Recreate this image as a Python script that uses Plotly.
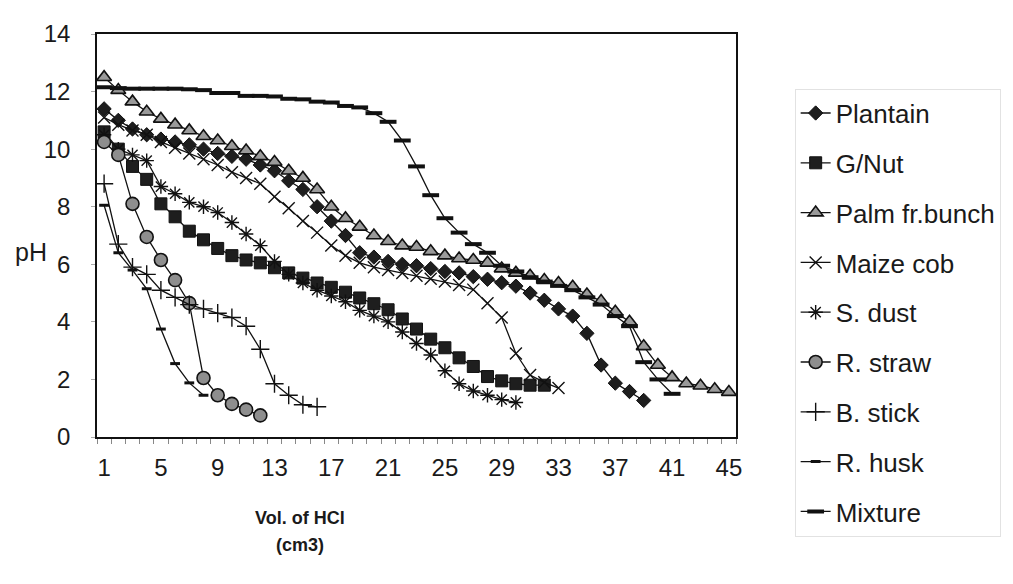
import plotly.graph_objects as go

# ---------------- data ----------------
vol = list(range(1, 46))                      # volume of HCl categories
xtick_vals = list(range(1, 46, 4))
xtick_text = [str(v) for v in xtick_vals]
ytick_vals = list(range(0, 15, 2))

plantain = [11.4, 11.0, 10.7, 10.5, 10.35, 10.25, 10.15, 10.0, 9.85, 9.75,
            9.65, 9.45, 9.25, 8.9, 8.6, 8.0, 7.5, 7.0, 6.4, 6.25,
            6.1, 6.0, 5.95, 5.85, 5.75, 5.7, 5.57, 5.48, 5.36, 5.24,
            5.0, 4.75, 4.45, 4.2, 3.6, 2.5, 1.87, 1.58, 1.27]
gnut = [10.6, 10.0, 9.4, 8.95, 8.1, 7.65, 7.15, 6.85, 6.55, 6.3,
        6.15, 6.05, 5.88, 5.7, 5.52, 5.35, 5.2, 5.03, 4.83, 4.63,
        4.42, 4.1, 3.75, 3.4, 3.1, 2.75, 2.45, 2.1, 1.95, 1.85,
        1.8, 1.8]
palm = [12.5, 12.05, 11.65, 11.3, 11.05, 10.85, 10.65, 10.45, 10.3, 10.1,
        9.95, 9.75, 9.55, 9.25, 9.0, 8.6, 8.0, 7.6, 7.3, 7.0,
        6.8, 6.65, 6.6, 6.45, 6.3, 6.2, 6.15, 6.05, 5.85, 5.7,
        5.6, 5.45, 5.35, 5.22, 4.95, 4.72, 4.35, 4.0, 3.15, 2.5,
        2.07, 1.86, 1.78, 1.66, 1.56]
maize = [11.1, 10.85, 10.65, 10.5, 10.25, 10.05, 9.85, 9.65, 9.45, 9.2,
         9.0, 8.8, 8.35, 7.95, 7.5, 7.1, 6.65, 6.3, 6.05, 5.9,
         5.8, 5.7, 5.6, 5.5, 5.4, 5.28, 5.12, 4.65, 4.15, 2.9,
         2.15, 1.9, 1.7]
sdust = [10.5, 10.0, 9.8, 9.6, 8.7, 8.45, 8.15, 8.0, 7.8, 7.45,
         7.05, 6.65, 6.1, 5.65, 5.35, 5.1, 4.9, 4.7, 4.4, 4.2,
         4.0, 3.65, 3.25, 2.85, 2.3, 1.85, 1.6, 1.45, 1.3, 1.2]
rstraw = [10.25, 9.8, 8.1, 6.95, 6.15, 5.45, 4.65, 2.05, 1.45, 1.15,
          0.95, 0.75]
bstick = [8.8, 6.7, 5.9, 5.65, 5.1, 4.85, 4.6, 4.45, 4.3, 4.15,
          3.85, 3.05, 1.85, 1.45, 1.12, 1.05]
rhusk = [8.05, 6.4, 5.8, 5.15, 3.75, 2.55, 1.88, 1.45]
mixture = [12.15, 12.12, 12.1, 12.1, 12.1, 12.1, 12.08, 12.05, 11.95, 11.95,
           11.85, 11.85, 11.83, 11.75, 11.73, 11.65, 11.62, 11.5, 11.45, 11.25,
           10.95, 10.3, 9.4, 8.4, 7.6, 7.1, 6.7, 6.4, 5.95, 5.75,
           5.55, 5.4, 5.25, 5.1, 4.85, 4.6, 4.2, 3.85, 2.6, 2.0,
           1.5]

names = ["Plantain", "G/Nut", "Palm fr.bunch", "Maize cob", "S. dust",
         "R. straw", "B. stick", "R. husk", "Mixture"]
values = [plantain, gnut, palm, maize, sdust, rstraw, bstick, rhusk, mixture]

# ---------------- styles ----------------
INK = "#111111"
markers = [
    dict(symbol="diamond", size=11, color="#1e1e1e", line=dict(color=INK, width=1)),
    dict(symbol="square", size=12, color="#1e1e1e", line=dict(color=INK, width=1)),
    dict(symbol="triangle-up", size=13, color="#9a9a9a", line=dict(color=INK, width=1.6)),
    dict(symbol="x-thin", size=12, color=INK, line=dict(color=INK, width=1.4)),
    dict(symbol="asterisk", size=12, color=INK, line=dict(color=INK, width=1.4)),
    dict(symbol="circle", size=13, color="#8e8e8e", line=dict(color=INK, width=1.6)),
    dict(symbol="cross-thin", size=13, color=INK, line=dict(color=INK, width=1.4)),
    dict(symbol="line-ew", size=7, color=INK, line=dict(color=INK, width=3)),
    dict(symbol="line-ew", size=12, color=INK, line=dict(color=INK, width=4)),
]

FONT = "Liberation Sans, Arial, sans-serif"
TXT = "#1a1a1a"

fig = go.Figure()
for i, (nm, vals, mk) in enumerate(zip(names, values, markers)):
    fig.add_trace(go.Scatter(
        x=vol[:len(vals)], y=vals, name=nm, mode="lines+markers",
        line=dict(color=INK, width=1.3), marker=mk,
        legendgroup=f"g{i}",
    ))

fig.update_layout(
    width=1013, height=584,
    margin=dict(l=97, r=273, t=34, b=147),
    paper_bgcolor="white", plot_bgcolor="white",
    font=dict(family=FONT, color=TXT),
    showlegend=True,
    legend=dict(
        x=1.0918, y=0.8645, xanchor="left", yanchor="top",
        font=dict(family=FONT, size=26, color=TXT),
        tracegroupgap=13, bordercolor="#e2e2e2", borderwidth=1,
        bgcolor="rgba(0,0,0,0)", maxheight=580,
    ),
    xaxis=dict(
        range=[0.5, 45.5], tickmode="array", tickvals=xtick_vals, ticktext=xtick_text,
        ticks="", showgrid=False, zeroline=False,
        showline=True, linecolor=INK, linewidth=1.5, mirror=True,
        tickfont=dict(family=FONT, size=24, color=TXT),
        ticklabelstandoff=8,
        minor=dict(tickvals=[v + 0.5 for v in range(0, 46)], ticks="outside",
                   ticklen=5, tickcolor="#888888", showgrid=False),
    ),
    yaxis=dict(
        range=[0, 14], tickmode="array", tickvals=ytick_vals,
        ticks="outside", ticklen=4, tickcolor="#aaaaaa",
        showgrid=False, zeroline=False,
        showline=True, linecolor=INK, linewidth=1.5, mirror=True,
        tickfont=dict(family=FONT, size=24, color=TXT),
        ticklabelstandoff=16,
    ),
    annotations=[
        dict(text="pH", x=-0.104, y=0.46, xref="paper", yref="paper",
             xanchor="center", yanchor="middle",
             showarrow=False, font=dict(family=FONT, size=25, color=TXT)),
        dict(text="<b>Vol. of HCl</b>", x=0.317, y=-0.2, xref="paper", yref="paper",
             xanchor="center", yanchor="middle",
             showarrow=False, font=dict(family=FONT, size=18, color=TXT)),
        dict(text="<b>(cm3)</b>", x=0.317, y=-0.268, xref="paper", yref="paper",
             xanchor="center", yanchor="middle",
             showarrow=False, font=dict(family=FONT, size=18, color=TXT)),
    ],
)

fig.write_html("out.html")
